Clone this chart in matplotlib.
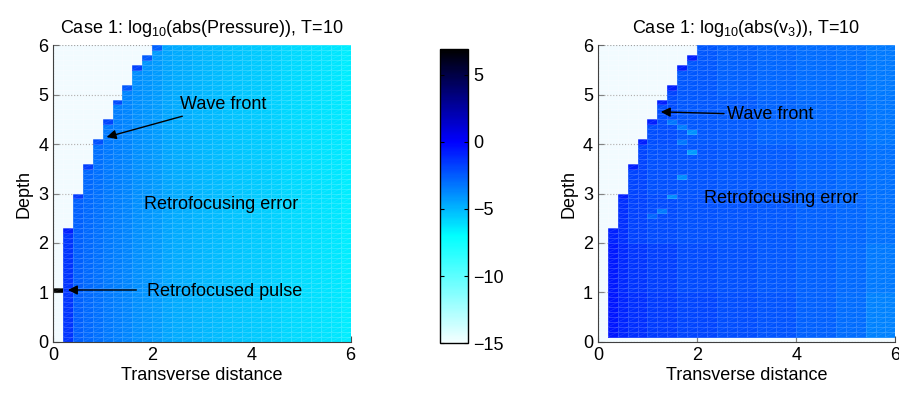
import numpy as np
import matplotlib
matplotlib.use("Agg")
import matplotlib.pyplot as plt
from matplotlib.colors import LinearSegmentedColormap, Normalize
from matplotlib.collections import LineCollection

plt.rcParams["font.family"] = ["Liberation Sans", "DejaVu Sans"]
plt.rcParams["mathtext.fontset"] = "custom"
plt.rcParams["mathtext.rm"] = "Liberation Sans"
plt.rcParams["mathtext.default"] = "rm"

# mesh spacing of the computation
dx = 0.2
dz = 0.1
n_cols = 30
n_rows = 60

# depth reached by the wave front in each column (column 0 holds no data)
front_top = [np.nan, 2.3, 3.0, 3.6, 4.1, 4.5, 4.9, 5.2, 5.6, 5.8] + [6.0] * 20

# left panel: log10|p| per column, and the darker cell at the front
left_col_values = [np.nan, -1.4, -2.6, -2.9, -3.1, -3.3, -3.5, -3.7, -3.9, -4.1,
                   -4.3, -4.5, -4.65, -4.8, -4.95, -5.05, -5.15, -5.25, -5.35, -5.45,
                   -5.55, -5.65, -5.75, -5.85, -5.95, -6.05, -6.15, -6.25, -6.35, -6.45]
left_front_values = [np.nan, -0.8, -1.6, -1.7, -2.2, -1.9, -2.0, -2.4, -1.8, -2.5, -2.6]
pulse_value = 6.9
pulse_col, pulse_row = 0, 10

# right panel: log10|v3| read as a coarse table (depth bands x column groups)
right_x_groups = [0.2, 0.4, 0.6, 1.0, 1.6, 2.4, 3.2, 4.0, 4.8, 5.4, 6.0]
right_z_bands = [0.1, 1.0, 2.0, 3.0, 4.0, 5.0, 6.0]
right_table = [
    [-0.6, -1.0, -1.3, -1.6, -1.9, -2.1, -2.3, -2.6, -3.0, -3.6],
    [-0.7, -1.1, -1.4, -1.7, -2.0, -2.2, -2.4, -2.6, -2.9, -3.3],
    [-0.9, -1.3, -1.8, -2.0, -2.2, -2.3, -2.4, -2.6, -2.8, -3.1],
    [-1.2, -1.5, -1.9, -2.2, -2.3, -2.4, -2.5, -2.7, -2.9, -3.1],
    [-1.2, -1.4, -1.6, -2.1, -2.4, -2.5, -2.7, -2.9, -3.0, -3.2],
    [-1.5, -1.6, -1.7, -1.9, -2.4, -2.6, -2.8, -3.0, -3.1, -3.3],
]
right_front_value = -0.8
# lighter cells along a secondary ray (x, depth, value)
right_spots = [(1.8, 4.2, -4.0), (1.8, 3.8, -4.3), (1.6, 3.3, -3.8),
               (1.4, 2.9, -3.8), (1.2, 2.6, -3.3), (1.6, 4.3, -3.4), (1.4, 4.4, -3.2),
               (1.0, 2.5, -2.8), (1.6, 4.0, -3.2)]

vmin, vmax = -15, 6.9
cmap = LinearSegmentedColormap.from_list(
    "retro",
    [((vmin - vmin) / (vmax - vmin), (0.96, 1.0, 1.0)),
     ((-7 - vmin) / (vmax - vmin), (0.0, 1.0, 1.0)),
     ((0 - vmin) / (vmax - vmin), (0.0, 0.0, 1.0)),
     (1.0, (0.0, 0.0, 0.0))])
norm = Normalize(vmin, vmax)

xe = np.arange(n_cols + 1) * dx
ze = np.arange(n_rows + 1) * dz


def below_front(c, r):
    top = front_top[c]
    return not np.isnan(top) and (r + 1) * dz <= top + 1e-6


def left_field():
    Z = np.full((n_rows, n_cols), np.nan)
    for c in range(n_cols):
        for r in range(n_rows):
            if below_front(c, r):
                Z[r, c] = left_col_values[c]
        if c < len(left_front_values) and not np.isnan(front_top[c]):
            Z[int(round(front_top[c] / dz)) - 1, c] = left_front_values[c]
    Z[pulse_row, pulse_col] = pulse_value
    return np.ma.masked_invalid(Z)


def right_field():
    Z = np.full((n_rows, n_cols), np.nan)
    for c in range(n_cols):
        xc = (c + 0.5) * dx
        for r in range(n_rows):
            zc = (r + 0.5) * dz
            if r < 1 or not below_front(c, r):
                continue
            gi = np.searchsorted(right_x_groups, xc) - 1
            bi = np.searchsorted(right_z_bands, zc) - 1
            Z[r, c] = right_table[bi][gi]
        if not np.isnan(front_top[c]) and front_top[c] < 6:
            Z[int(round(front_top[c] / dz)) - 1, c] = right_front_value
    for x0, z0, v in right_spots:
        Z[int(round(z0 / dz)), int(round(x0 / dx))] = v
    return np.ma.masked_invalid(Z)


def draw_panel(ax, Z, title):
    ax.set_facecolor("#f2fbff")
    mesh = ax.pcolormesh(xe, ze, Z, cmap=cmap, norm=norm,
                         edgecolors=(1, 1, 1, 0.17), linewidth=0.5)
    segs = []
    for r in range(n_rows):
        for c in range(n_cols):
            if not np.ma.is_masked(Z[r, c]):
                segs.append([(xe[c], ze[r]), (xe[c + 1], ze[r + 1])])
    ax.add_collection(LineCollection(segs, colors=[(1, 1, 1, 0.13)], linewidths=0.5))
    ax.set_xlim(0, 6)
    ax.set_ylim(0, 6)
    ax.set_xticks([0, 2, 4, 6])
    ax.set_yticks(range(7))
    ax.grid(True, linestyle=":", color="0.55", linewidth=0.8)
    ax.set_axisbelow(True)
    for s in ["top", "right"]:
        ax.spines[s].set_visible(False)
    for s in ["left", "bottom"]:
        ax.spines[s].set_color("0.25")
    ax.tick_params(direction="in", labelsize=13, length=4, color="0.3")
    ax.set_xlabel("Transverse distance", fontsize=13, labelpad=2)
    ax.set_ylabel("Depth", fontsize=13, labelpad=4)
    ax.set_title(title, fontsize=13, pad=9)
    return mesh


fig = plt.figure(figsize=(8.99, 3.99), dpi=100)
ax1 = fig.add_axes([0.059, 0.143, 0.331, 0.744])
ax2 = fig.add_axes([0.665, 0.143, 0.331, 0.744])
cax = fig.add_axes([0.489, 0.140, 0.032, 0.737])

mesh = draw_panel(ax1, left_field(), "Case 1: log$_{10}$(abs(Pressure)), T=10")
draw_panel(ax2, right_field(), "Case 1: log$_{10}$(abs(v$_3$)), T=10")

arrow = dict(arrowstyle="-|>", color="k", lw=1, mutation_scale=14, shrinkA=0, shrinkB=0)
ax1.annotate("Wave front", xy=(1.08, 4.14), xytext=(2.56, 4.79), fontsize=13,
             va="center", arrowprops=arrow)
ax1.annotate("", xy=(0.3, 1.05), xytext=(1.68, 1.05), arrowprops=arrow)
ax1.text(1.9, 1.02, "Retrofocused pulse", fontsize=13, va="center")
ax1.text(1.84, 2.77, "Retrofocusing error", fontsize=13, va="center")

ax2.annotate("Wave front", xy=(1.27, 4.65), xytext=(2.6, 4.59), fontsize=13,
             va="center", arrowprops=arrow)
ax2.text(2.14, 2.9, "Retrofocusing error", fontsize=13, va="center")

cb = fig.colorbar(mesh, cax=cax, ticks=[-15, -10, -5, 0, 5])
cb.outline.set_linewidth(1)
cax.tick_params(direction="in", labelsize=13, left=True, right=True, length=3)

fig.savefig("out.png", dpi=100)
